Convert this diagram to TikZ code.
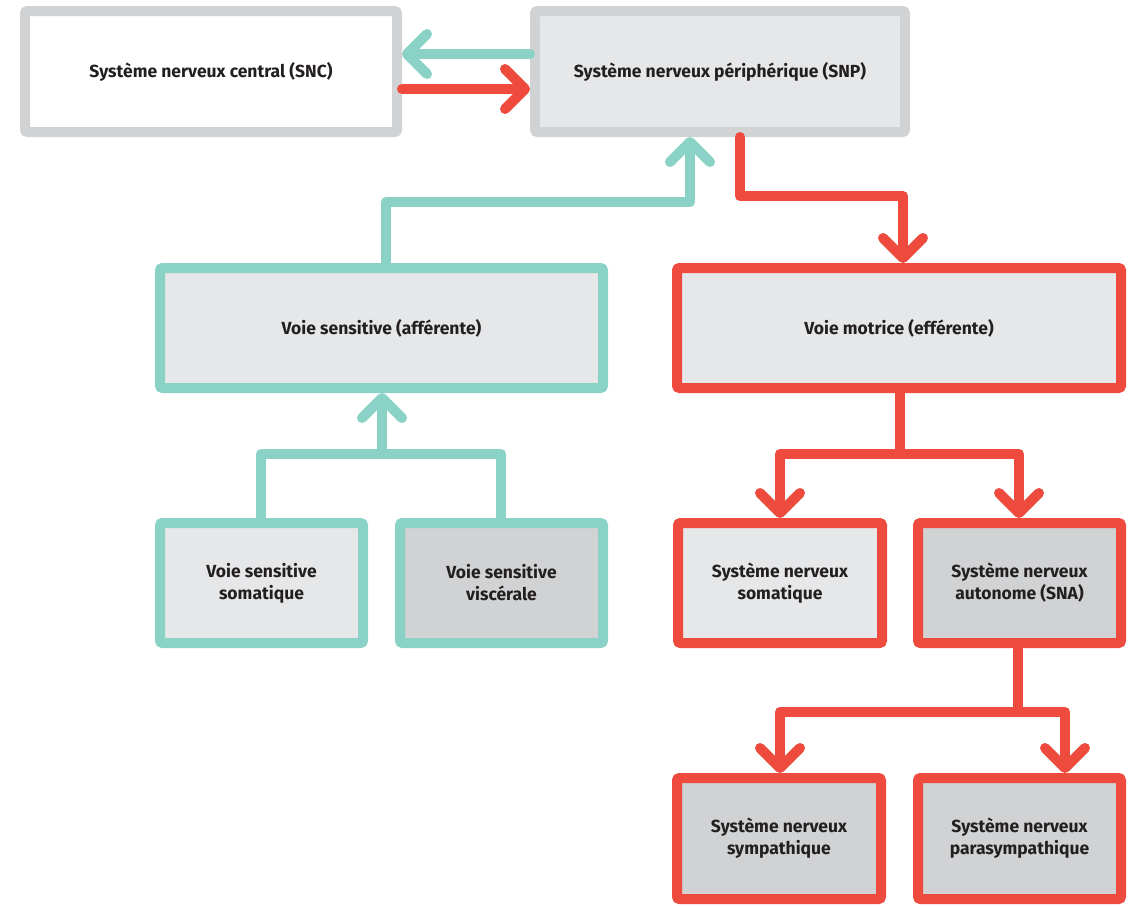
\documentclass[tikz,border=0pt]{standalone}
\usepackage{fontspec}
\setmainfont{Fira Sans}
\usetikzlibrary{arrows.meta,calc}
\definecolor{lgray}{HTML}{E6E7E8}
\definecolor{dgray}{HTML}{D1D2D4}
\definecolor{tealc}{HTML}{8AD1C6}
\definecolor{redc}{HTML}{EF4A3E}
\definecolor{txt}{HTML}{231F20}
\tikzset{
  boxbase/.style={rectangle, line width=10pt, rounded corners=2.5pt, inner sep=0pt, outer sep=5pt,
    align=center, text=txt, font=\bfseries\fontsize{17.5}{22}\selectfont},
  graybox/.style={boxbase, draw=dgray},
  tealbox/.style={boxbase, draw=tealc},
  redbox/.style={boxbase, draw=redc},
  conn/.style={line width=10pt, line cap=round, line join=round},
  tealline/.style={conn, draw=tealc},
  redline/.style={conn, draw=redc},
  tip/.style={-{Straight Barb[length=20pt, width=40pt, round]}},
}
\begin{document}
\begin{tikzpicture}[x=1pt, y=-1pt]
\useasboundingbox (0,0) rectangle (1135,905);
% boxes
\node[graybox, fill=white, minimum width=372pt, minimum height=121pt] (snc) at (211,71.5) {Système nerveux central (SNC)};
\node[graybox, fill=lgray, minimum width=370pt, minimum height=121pt] (snp) at (720,71.5) {Système nerveux périphérique (SNP)};
\node[tealbox, fill=lgray, minimum width=443pt, minimum height=120pt] (vs) at (381.5,328) {Voie sensitive (afférente)};
\node[redbox, fill=lgray, minimum width=444pt, minimum height=120pt] (vm) at (899,328) {Voie motrice (efférente)};
\node[tealbox, fill=lgray, minimum width=203pt, minimum height=120pt] (vss) at (261.5,583) {Voie sensitive\\somatique};
\node[tealbox, fill=dgray, minimum width=203pt, minimum height=120pt] (vsv) at (501.5,583) {Voie sensitive\\viscérale};
\node[redbox, fill=lgray, minimum width=204pt, minimum height=120pt] (sns) at (780,583) {Système nerveux\\somatique};
\node[redbox, fill=dgray, minimum width=203pt, minimum height=120pt] (sna) at (1019.5,583) {Système nerveux\\autonome (SNA)};
\node[redbox, fill=dgray, minimum width=204pt, minimum height=121pt] (sym) at (779,838.5) {Système nerveux\\sympathique};
\node[redbox, fill=dgray, minimum width=203pt, minimum height=121pt] (para) at (1019.5,838.5) {Système nerveux\\parasympathique};
% SNC <-> SNP
\draw[tealline, tip] (snp.west |- 0,54) -- (snc.east |- 0,54);
\draw[redline, tip] (snc.east |- 0,89) -- (snp.west |- 0,89);
% sensitive -> SNP
\draw[tealline, tip] (vs.north -| 386,0) -- (386,202) -- (690,202) -- (snp.south -| 690,0);
% SNP -> motrice
\draw[redline, tip] (snp.south -| 740,0) -- (740,196) -- (903,196) -- (vm.north -| 903,0);
% sensitive branches
\coordinate (tj) at (382,454);
\draw[tealline] (vss.north -| 261,0) -- (261,454) -- (501,454) -- (vsv.north -| 501,0);
\draw[tealline, tip] (tj) -- (vs.south -| tj);
% motrice branches
\coordinate (rj) at (900,454);
\draw[redline] (vm.south -| rj) -- (rj);
\draw[redline, tip] (rj) -| (sns.north -| 780,0);
\draw[redline, tip] (rj) -| (sna.north -| 1019,0);
% SNA branches
\coordinate (aj) at (1018,712);
\draw[redline] (sna.south -| aj) -- (aj);
\draw[redline, tip] (aj) -| (sym.north -| 780,0);
\draw[redline, tip] (aj) -| (para.north -| 1065,0);
\end{tikzpicture}
\end{document}
